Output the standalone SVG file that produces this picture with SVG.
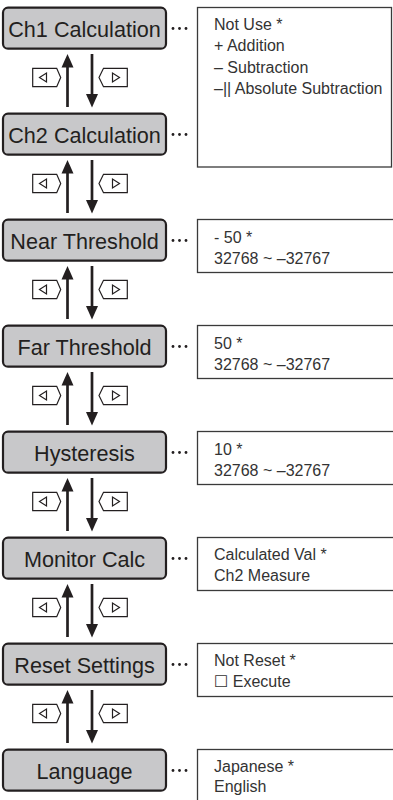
<svg xmlns="http://www.w3.org/2000/svg" width="393" height="800" viewBox="0 0 393 800">
<style>
.node rect{fill:#c8c8ca;stroke:#231f20;stroke-width:2.2}
.node text{font-family:"Liberation Sans",Arial,sans-serif;font-size:21.6px;fill:#231f20;text-anchor:middle}
.dots circle{fill:#231f20}
.opt rect{fill:#fff;stroke:#3a3a3a;stroke-width:1.3}
.opt text{font-family:"Liberation Sans",Arial,"DejaVu Sans",sans-serif;font-size:16px;fill:#333}
.shaft{stroke:#231f20;stroke-width:2.7;fill:none}
.head{fill:#231f20}
.key{fill:#fff;stroke:#231f20;stroke-width:1.2;stroke-linejoin:miter}
</style>
<defs>
<g id="dots" class="dots"><circle cx="173" cy="0" r="1.4"/><circle cx="179.5" cy="0" r="1.4"/><circle cx="186" cy="0" r="1.4"/></g>
<g id="keys">
<path class="key" d="M32.7,19.3H56.7L60.7,28.5L56.7,37.7H32.7Z"/>
<path class="key" d="M39.5,28.5L46.5,24L46.5,33Z"/>
<path class="key" d="M99,28.5L103.5,19.3H127.3V37.7H103.5Z"/>
<path class="key" d="M119.5,28.5L112.5,24L112.5,33Z"/>
</g>
<g id="arrows">
<line class="shaft" x1="67.5" y1="58" x2="67.5" y2="15"/>
<path class="head" d="M67.5,5L73.5,18.5L61.5,18.5Z"/>
<line class="shaft" x1="92" y1="5" x2="92" y2="46"/>
<path class="head" d="M92,58.5L98,45L86,45Z"/>
</g>
</defs>

<g id="connectors">
<g transform="translate(0,49)"><use href="#arrows"/><use href="#keys"/></g>
<g transform="translate(0,155)"><use href="#arrows"/><use href="#keys"/></g>
<g transform="translate(0,261)"><use href="#arrows"/><use href="#keys"/></g>
<g transform="translate(0,367)"><use href="#arrows"/><use href="#keys"/></g>
<g transform="translate(0,473)"><use href="#arrows"/><use href="#keys"/></g>
<g transform="translate(0,579)"><use href="#arrows"/><use href="#keys"/></g>
<g transform="translate(0,685)"><use href="#arrows"/><use href="#keys"/></g>
<use href="#dots" y="28.5"/>
<use href="#dots" y="134.5"/>
<use href="#dots" y="240.5"/>
<use href="#dots" y="346.5"/>
<use href="#dots" y="452.5"/>
<use href="#dots" y="558.5"/>
<use href="#dots" y="664.5"/>
<use href="#dots" y="770.5"/>
</g>

<g id="n-ch1" class="node"><rect x="3" y="7.7" width="163" height="41" rx="5"/><text x="84.5" y="36.5">Ch1 Calculation</text></g>
<g id="n-ch2" class="node"><rect x="3" y="113.7" width="163" height="41" rx="5"/><text x="84.5" y="142.5">Ch2 Calculation</text></g>
<g id="n-near" class="node"><rect x="3" y="219.7" width="163" height="41" rx="5"/><text x="84.5" y="248.5">Near Threshold</text></g>
<g id="n-far" class="node"><rect x="3" y="325.7" width="163" height="41" rx="5"/><text x="84.5" y="354.5">Far Threshold</text></g>
<g id="n-hyst" class="node"><rect x="3" y="431.7" width="163" height="41" rx="5"/><text x="84.5" y="460.5">Hysteresis</text></g>
<g id="n-mon" class="node"><rect x="3" y="537.7" width="163" height="41" rx="5"/><text x="84.5" y="566.5">Monitor Calc</text></g>
<g id="n-reset" class="node"><rect x="3" y="643.7" width="163" height="41" rx="5"/><text x="84.5" y="672.5">Reset Settings</text></g>
<g id="n-lang" class="node"><rect x="3" y="749.7" width="163" height="41" rx="5"/><text x="84.5" y="778.5">Language</text></g>

<g id="o-calc" class="opt"><rect x="197.5" y="7.5" width="194" height="159.5"/>
<text x="214" y="29.5">Not Use *</text>
<text x="214" y="51">+ Addition</text>
<text x="214" y="72.5">– Subtraction</text>
<text x="214" y="94">–|| Absolute Subtraction</text></g>
<g id="o-near" class="opt"><rect x="197.5" y="219.5" width="200" height="53"/>
<text x="214" y="242.5">- 50 *</text><text x="214" y="263.5">32768 ~ –32767</text></g>
<g id="o-far" class="opt"><rect x="197.5" y="325.5" width="200" height="53"/>
<text x="214" y="348.5">50 *</text><text x="214" y="369.5">32768 ~ –32767</text></g>
<g id="o-hyst" class="opt"><rect x="197.5" y="431.5" width="200" height="53"/>
<text x="214" y="454.5">10 *</text><text x="214" y="475.5">32768 ~ –32767</text></g>
<g id="o-mon" class="opt"><rect x="197.5" y="537.5" width="200" height="53"/>
<text x="214" y="559.5">Calculated Val *</text><text x="214" y="580.5">Ch2 Measure</text></g>
<g id="o-reset" class="opt"><rect x="197.5" y="643.5" width="200" height="53"/>
<text x="214" y="665.5">Not Reset *</text><text x="214" y="686.5">☐ Execute</text></g>
<g id="o-lang" class="opt"><rect x="197.5" y="749.5" width="200" height="60"/>
<text x="214" y="771.5">Japanese *</text><text x="214" y="792">English</text></g>
</svg>
